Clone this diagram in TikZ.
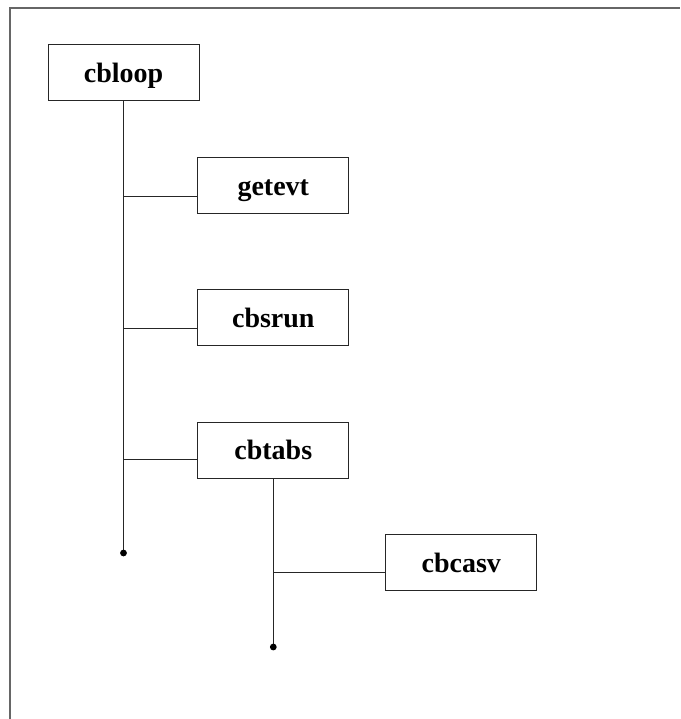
\documentclass[tikz,border=0pt]{standalone}
\usepackage{fontspec}
\setmainfont{Liberation Serif}
\begin{document}
\begin{tikzpicture}[x=1pt,y=-1pt,
  box/.style={draw=black!85,line width=1pt,minimum width=151pt,minimum height=56pt,inner sep=0pt,
    text height=19.5pt,text depth=0pt,font=\fontsize{28}{30}\selectfont\bfseries},
  wire/.style={draw=black!85,line width=1pt},
  enddot/.style={fill=black}]
\useasboundingbox (0,0) rectangle (680,719);
\draw[gray!80!black,line width=1.4pt] (10,719) -- (10,8) -- (680,8);
\node[box] (cbloop) at (123.5,73) {cbloop};
\node[box] (getevt) at (273.3,186) {getevt};
\node[box] (cbsrun) at (273.3,317.5) {cbsrun};
\node[box] (cbtabs) at (273.3,450) {cbtabs};
\node[box] (cbcasv) at (461.3,562.5) {cbcasv};
\coordinate (end1) at (124,553);
\coordinate (end2) at (273.3,647);
\draw[wire] (cbloop.south) -- (cbloop.south |- end1);
\fill[enddot] (cbloop.south |- end1) circle (3.4pt);
\draw[wire] (cbtabs.south) -- (end2);
\fill[enddot] (end2) circle (3.4pt);
\coordinate (g1) at ([yshift=-11pt]getevt.west);
\coordinate (g2) at ([yshift=-11pt]cbsrun.west);
\coordinate (g3) at ([yshift=-9pt]cbtabs.west);
\coordinate (g4) at ([yshift=-9.5pt]cbcasv.west);
\draw[wire] (g1) -- (cbloop.south |- g1);
\draw[wire] (g2) -- (cbloop.south |- g2);
\draw[wire] (g3) -- (cbloop.south |- g3);
\draw[wire] (g4) -- (cbtabs.south |- g4);
\end{tikzpicture}
\end{document}
